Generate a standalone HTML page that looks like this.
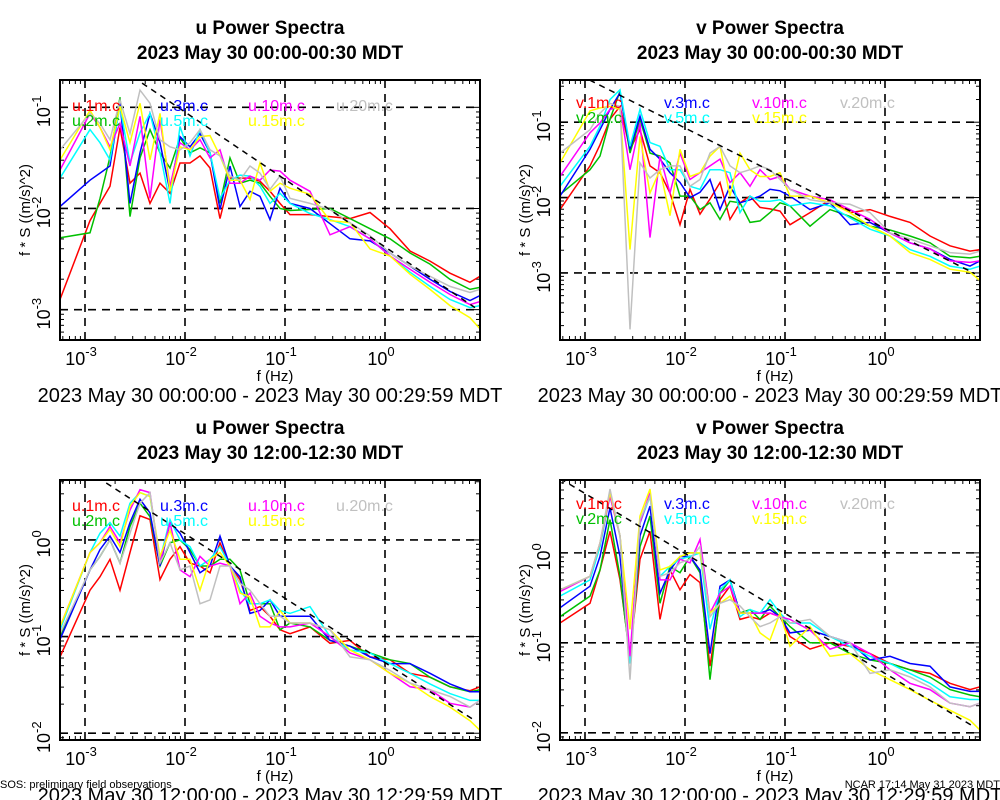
<!DOCTYPE html>
<html><head><meta charset="utf-8"><style>
body{margin:0;background:#fff;width:1000px;height:800px;overflow:hidden}
svg{display:block;font-family:"Liberation Sans",sans-serif}
</style></head><body>
<svg id="chart" width="1000" height="800" viewBox="0 0 1000 800" xmlns="http://www.w3.org/2000/svg"></svg>
<script>
// shared frequency grid (log10 Hz)
const logFreq = [-3.25,-2.95,-2.85,-2.75,-2.65,-2.55,-2.45,-2.35,-2.25,-2.15,-2.05,-1.95,-1.85,-1.75,-1.65,-1.55,-1.45,-1.35,-1.25,-1.15,-1.05,-0.95,-0.75,-0.55,-0.35,-0.15,0.05,0.25,0.45,0.65,0.85,0.95];
const seriesColors = ["#ff0000","#00c000","#0000ff","#00ffff","#ff00ff","#ffff00","#c0c0c0"];
const heightsLabel = ["1m","2m","3m","5m","10m","15m","20m"];
const legendOrder = [0,1,2,3,4,5,6];

// Panel 1: u 00:00 (log10 of f*S)
const tl_1m = [-2.9,-2.12,-1.95,-1.78,-1.2,-1.75,-1.65,-1.95,-1.75,-1.85,-1.55,-1.55,-1.48,-1.6,-2.1,-1.7,-1.7,-1.7,-1.73,-1.83,-1.95,-2.06,-2.06,-2.08,-2.1,-2.04,-2.2,-2.42,-2.52,-2.64,-2.73,-2.67];
const tl_2m = [-2.29,-2.24,-1.9,-1.49,-0.9,-2.08,-1.5,-1.22,-1.45,-1.6,-1.3,-1.45,-1.4,-1.45,-1.95,-1.5,-1.75,-1.72,-1.75,-1.88,-2.0,-2.02,-2.01,-2.0,-2.1,-2.2,-2.3,-2.44,-2.55,-2.7,-2.8,-2.78];
const tl_3m = [-1.98,-1.72,-1.65,-1.58,-0.96,-1.95,-1.45,-1.06,-1.35,-1.83,-1.29,-1.39,-1.26,-1.45,-2.01,-1.58,-1.98,-1.83,-1.88,-2.11,-1.8,-1.95,-2.0,-2.15,-2.3,-2.32,-2.44,-2.57,-2.7,-2.82,-2.91,-2.86];
const tl_5m = [-1.7,-1.22,-1.35,-1.52,-0.99,-1.55,-1.25,-1.06,-1.45,-1.95,-1.19,-1.48,-1.22,-1.45,-1.9,-1.72,-1.67,-1.68,-1.78,-1.95,-1.85,-1.95,-2.05,-2.11,-2.18,-2.3,-2.47,-2.63,-2.77,-2.9,-2.98,-2.96];
const tl_10m = [-1.62,-1.06,-1.2,-1.39,-1.16,-1.58,-1.09,-1.9,-1.12,-1.78,-1.35,-1.42,-1.32,-1.5,-1.42,-1.75,-1.75,-1.68,-1.72,-1.62,-1.63,-1.72,-1.83,-2.26,-2.18,-2.3,-2.47,-2.6,-2.73,-2.85,-2.95,-2.92];
const tl_15m = [-1.52,-1.03,-1.2,-1.42,-0.99,-1.35,-0.96,-1.52,-1.06,-1.83,-1.39,-1.42,-1.29,-1.28,-1.48,-1.72,-1.72,-1.91,-1.55,-1.83,-1.75,-1.8,-1.86,-2.12,-2.14,-2.4,-2.47,-2.65,-2.8,-2.96,-3.08,-3.19];
const tl_20m = [-1.42,-1.06,-1.16,-1.32,-0.93,-1.26,-0.83,-0.96,-1.32,-1.39,-1.42,-1.35,-1.22,-1.42,-1.48,-1.68,-1.72,-1.58,-1.65,-1.81,-1.68,-1.9,-1.95,-2.01,-2.14,-2.27,-2.44,-2.57,-2.67,-2.77,-2.83,-2.8];

// Panel 2: v 00:00
const tr_1m = [-2.16,-1.58,-1.3,-0.96,-0.79,-1.36,-1.1,-1.58,-1.67,-1.94,-2.36,-1.89,-2.22,-2.02,-1.8,-2.29,-2.07,-1.98,-2.13,-2.15,-2.18,-2.36,-2.2,-2.03,-2.2,-2.16,-2.25,-2.33,-2.51,-2.64,-2.71,-2.69];
const tr_2m = [-1.96,-1.63,-1.45,-0.96,-0.59,-1.41,-0.96,-1.41,-1.45,-1.54,-1.98,-1.98,-2.16,-2.07,-2.29,-2.05,-2.07,-2.33,-2.31,-2.2,-2.07,-2.11,-2.38,-2.16,-2.25,-2.38,-2.43,-2.51,-2.6,-2.78,-2.8,-2.78];
const tr_3m = [-1.98,-1.36,-1.1,-0.83,-0.61,-1.36,-0.92,-1.36,-1.49,-1.67,-1.8,-2.0,-1.93,-1.76,-2.16,-1.85,-2.07,-2.03,-1.98,-1.89,-1.91,-1.98,-2.16,-2.07,-2.36,-2.33,-2.47,-2.6,-2.68,-2.82,-2.91,-2.84];
const tr_5m = [-1.85,-1.32,-1.05,-0.7,-0.57,-1.32,-0.83,-1.27,-1.32,-1.63,-1.63,-1.85,-1.89,-1.63,-1.63,-1.67,-2.2,-1.98,-2.05,-2.05,-2.03,-2.11,-2.07,-2.11,-2.27,-2.42,-2.51,-2.69,-2.78,-2.91,-2.95,-2.91];
const tr_10m = [-1.72,-1.14,-1.01,-0.83,-0.79,-1.63,-1.01,-2.53,-1.45,-1.94,-1.41,-1.76,-1.67,-1.58,-1.49,-1.8,-1.67,-1.85,-1.63,-1.76,-1.72,-1.89,-1.98,-2.03,-2.16,-2.29,-2.47,-2.6,-2.68,-2.84,-2.86,-2.84];
const tr_15m = [-1.54,-0.85,-0.81,-0.79,-0.83,-2.69,-1.19,-1.94,-1.63,-2.24,-1.36,-1.72,-1.67,-1.45,-1.32,-1.98,-1.41,-1.63,-1.72,-1.72,-1.67,-1.98,-1.98,-2.07,-2.2,-2.38,-2.51,-2.73,-2.82,-2.95,-2.99,-3.1];
const tr_20m = [-1.41,-1.1,-0.88,-0.75,-0.79,-3.75,-1.54,-1.74,-1.63,-1.58,-1.58,-1.85,-1.76,-1.41,-1.32,-1.58,-1.67,-1.63,-1.58,-1.63,-1.76,-1.89,-2.03,-2.07,-2.09,-2.2,-2.47,-2.55,-2.64,-2.73,-2.75,-2.71];

// Panel 3: u 12:00
const bl_1m = [-1.21,-0.52,-0.38,-0.2,-0.52,-0.13,0.25,0.21,-0.41,-0.2,-0.07,-0.24,-0.27,-0.34,-0.03,-0.27,-0.41,-0.73,-0.69,-0.79,-0.93,-0.97,-0.9,-1.07,-1.04,-1.21,-1.24,-1.38,-1.42,-1.52,-1.56,-1.52];
const bl_2m = [-1.0,-0.31,-0.17,0.0,-0.24,0.14,0.38,0.24,-0.27,-0.03,0.0,-0.1,-0.27,-0.27,-0.2,-0.2,-0.31,-0.66,-0.66,-0.66,-0.93,-0.86,-0.9,-1.04,-1.1,-1.17,-1.24,-1.28,-1.42,-1.52,-1.57,-1.55];
const bl_3m = [-1.03,-0.31,-0.1,0.04,-0.13,0.18,0.42,0.28,-0.27,0.18,0.07,-0.13,-0.34,-0.27,0.04,-0.27,-0.38,-0.76,-0.73,-0.62,-0.79,-0.79,-0.79,-1.04,-1.1,-1.21,-1.28,-1.28,-1.38,-1.49,-1.57,-1.57];
const bl_5m = [-0.93,-0.13,0.07,0.18,0.04,0.38,0.49,0.45,-0.2,0.21,0.0,-0.07,-0.27,-0.2,-0.07,-0.27,-0.52,-0.66,-0.66,-0.62,-0.73,-0.76,-0.69,-1.0,-1.14,-1.17,-1.28,-1.38,-1.49,-1.59,-1.66,-1.66];
const bl_10m = [-0.9,-0.13,-0.03,0.14,-0.03,0.31,0.52,0.49,-0.24,0.18,-0.31,-0.38,-0.17,-0.27,-0.24,-0.27,-0.66,-0.55,-0.79,-0.86,-0.9,-0.9,-0.86,-1.0,-1.17,-1.24,-1.38,-1.52,-1.55,-1.69,-1.73,-1.66];
const bl_15m = [-0.9,-0.13,-0.03,0.11,-0.07,0.35,0.49,0.45,-0.17,0.1,-0.2,-0.2,-0.52,-0.2,-0.13,-0.27,-0.55,-0.59,-0.9,-0.9,-0.73,-0.86,-0.86,-0.93,-1.14,-1.24,-1.38,-1.48,-1.62,-1.73,-1.87,-1.97];
const bl_20m = [-0.97,-0.31,-0.17,0.0,-0.24,0.07,0.38,0.49,-0.24,-0.03,-0.31,-0.27,-0.66,-0.62,-0.27,-0.27,-0.45,-0.52,-0.66,-0.79,-0.79,-0.86,-0.86,-0.93,-1.21,-1.24,-1.35,-1.48,-1.55,-1.62,-1.73,-1.66];

// Panel 4: v 12:00
const br_1m = [-0.78,-0.56,-0.19,0.24,-0.3,-1.15,-0.07,0.24,-0.74,-0.19,-0.41,-0.24,-0.33,-1.26,-0.52,-0.37,-0.74,-0.71,-0.74,-0.67,-0.71,-0.93,-1.07,-1.0,-1.04,-1.12,-1.23,-1.3,-1.34,-1.45,-1.52,-1.49];
const br_2m = [-0.71,-0.48,-0.19,0.37,-0.26,-1.19,0.07,0.41,-0.56,-0.15,-0.22,-0.04,-0.22,-1.41,-0.45,-0.3,-0.67,-0.63,-0.74,-0.59,-0.71,-0.82,-1.0,-1.0,-1.12,-1.19,-1.23,-1.3,-1.38,-1.52,-1.58,-1.6];
const br_3m = [-0.61,-0.37,-0.04,0.5,-0.04,-1.23,0.19,0.52,-0.45,-0.19,-0.04,-0.04,-0.19,-1.12,-0.37,-0.3,-0.67,-0.67,-0.67,-0.63,-0.71,-0.89,-0.86,-0.93,-1.0,-1.19,-1.15,-1.23,-1.26,-1.49,-1.54,-1.54];
const br_5m = [-0.48,-0.3,0.07,0.63,0.19,-1.23,0.33,0.63,-0.26,-0.15,-0.07,-0.04,0.0,-0.85,-0.41,-0.3,-0.71,-0.63,-0.67,-0.52,-0.67,-0.78,-0.78,-0.93,-1.04,-1.15,-1.23,-1.34,-1.45,-1.6,-1.63,-1.63];
const br_10m = [-0.43,-0.26,0.11,0.63,0.19,-1.15,0.33,0.67,-0.3,-0.3,-0.07,-0.11,0.15,-0.67,-0.45,-0.37,-0.67,-0.67,-0.67,-0.67,-0.71,-0.74,-0.86,-1.07,-1.0,-1.12,-1.3,-1.45,-1.52,-1.67,-1.71,-1.67];
const br_15m = [-0.41,-0.26,0.11,0.67,0.19,-0.85,0.41,0.71,-0.19,-0.15,-0.04,0.0,0.0,-0.67,-0.56,-0.48,-0.67,-0.67,-0.89,-0.97,-0.67,-1.04,-0.82,-1.15,-1.12,-1.3,-1.41,-1.52,-1.64,-1.75,-1.86,-1.97];
const br_20m = [-0.41,-0.26,0.11,0.71,0.19,-1.41,0.37,0.63,-0.26,-0.22,-0.11,-0.07,0.07,-0.71,-0.56,-0.52,-0.59,-0.71,-0.82,-0.78,-0.71,-0.78,-0.74,-0.93,-1.0,-1.34,-1.3,-1.38,-1.49,-1.67,-1.71,-1.67];

const xTickExp = [-3,-2,-1,0];
const topYTickExp = [-1,-2,-3];
const botYTickExp = [0,-1,-2];
const refIntercepts = [-2.38,-2.41,-1.27,-1.34]; // -2/3 slope reference line intercepts

const svg = document.getElementById('chart');
const NS = 'http://www.w3.org/2000/svg';
function mk(tag, attrs, parent){const e=document.createElementNS(NS,tag);for(const k in attrs)e.setAttribute(k,attrs[k]);(parent||svg).appendChild(e);return e;}

const panels = [
 {comp:'u', title1:'u Power Spectra', title2:'2023 May 30 00:00-00:30 MDT', sub:'2023 May 30 00:00:00 - 2023 May 30 00:29:59 MDT', x0:60,y0:80, lyMin:-3.3, lyMax:-0.73, yt:topYTickExp, data:[tl_1m,tl_2m,tl_3m,tl_5m,tl_10m,tl_15m,tl_20m], ref:refIntercepts[0], leg:[72,111]},
 {comp:'v', title1:'v Power Spectra', title2:'2023 May 30 00:00-00:30 MDT', sub:'2023 May 30 00:00:00 - 2023 May 30 00:29:59 MDT', x0:560,y0:80, lyMin:-3.89, lyMax:-0.44, yt:topYTickExp, data:[tr_1m,tr_2m,tr_3m,tr_5m,tr_10m,tr_15m,tr_20m], ref:refIntercepts[1], leg:[576,108]},
 {comp:'u', title1:'u Power Spectra', title2:'2023 May 30 12:00-12:30 MDT', sub:'2023 May 30 12:00:00 - 2023 May 30 12:29:59 MDT', x0:60,y0:480, lyMin:-2.07, lyMax:0.62, yt:botYTickExp, data:[bl_1m,bl_2m,bl_3m,bl_5m,bl_10m,bl_15m,bl_20m], ref:refIntercepts[2], leg:[72,511]},
 {comp:'v', title1:'v Power Spectra', title2:'2023 May 30 12:00-12:30 MDT', sub:'2023 May 30 12:00:00 - 2023 May 30 12:29:59 MDT', x0:560,y0:480, lyMin:-2.08, lyMax:0.81, yt:botYTickExp, data:[br_1m,br_2m,br_3m,br_5m,br_10m,br_15m,br_20m], ref:refIntercepts[3], leg:[576,509]}
];
const W=420,H=260,LX0=-3.25,LX1=0.95;
const legX=[0,88,176,264], legColOf=[0,0,1,1,2,2,3], legRowOf=[0,1,0,1,0,1,0];

panels.forEach((p,pi)=>{
  const g=mk('g',{});
  
  
  const sx=lf=>p.x0+(lf-LX0)/(LX1-LX0)*W;
  const sy=ls=>p.y0+(p.lyMax-ls)/(p.lyMax-p.lyMin)*H;
  const cx=p.x0+210;
  let t=mk('text',{x:cx,y:p.y0-46,'text-anchor':'middle','font-size':19,'font-weight':'bold'},g);t.textContent=p.title1;
  
  t=mk('text',{x:cx,y:p.y0-21,'text-anchor':'middle','font-size':19,'font-weight':'bold'},g);t.textContent=p.title2;
  
  const cid='clip'+pi;
  const cp=mk('clipPath',{id:cid},g);mk('rect',{x:p.x0,y:p.y0,width:W,height:H},cp);
  const tk=mk('g',{stroke:'#000','stroke-width':1},g);
  
  for(let d=-4;d<=1;d++)for(let m=1;m<10;m++){
    const lf=d+Math.log10(m); if(lf<LX0||lf>LX1)continue; const x=sx(lf), L=m==1?8:4;
    mk('line',{x1:x,y1:p.y0+H,x2:x,y2:p.y0+H-L},tk);mk('line',{x1:x,y1:p.y0,x2:x,y2:p.y0+L},tk);}
  for(let d=-5;d<=2;d++)for(let m=1;m<10;m++){
    const ls=d+Math.log10(m); if(ls<p.lyMin||ls>p.lyMax)continue; const y=sy(ls), L=m==1?8:4;
    mk('line',{x1:p.x0,y1:y,x2:p.x0+L,y2:y},tk);mk('line',{x1:p.x0+W,y1:y,x2:p.x0+W-L,y2:y},tk);}
  const gg=mk('g',{stroke:'#000','stroke-width':1.6,'stroke-dasharray':'8,6'},g);
  
  xTickExp.forEach(e=>mk('line',{x1:sx(e),y1:p.y0,x2:sx(e),y2:p.y0+H},gg));
  p.yt.forEach(e=>mk('line',{x1:p.x0,y1:sy(e),x2:p.x0+W,y2:sy(e)},gg));
  const sg=mk('g',{'clip-path':'url(#'+cid+')',fill:'none','stroke-width':1.5},g);
  p.data.forEach((arr,si)=>{
    const pts=arr.map((v,i)=>sx(logFreq[i]).toFixed(1)+','+sy(v).toFixed(1)).join(' ');
    const pl=mk('polyline',{points:pts,stroke:seriesColors[si]},sg);
    
    
  });
  const rl=mk('line',{x1:sx(LX0),y1:sy(p.ref-2/3*LX0),x2:sx(0.9),y2:sy(p.ref-2/3*0.9),stroke:'#000','stroke-width':1.5,'stroke-dasharray':'6,5'},sg);
  
  const fr=mk('rect',{x:p.x0,y:p.y0,width:W,height:H,fill:'none',stroke:'#000','stroke-width':2},g);
  
  legendOrder.forEach(si=>{
    const lt=mk('text',{x:p.leg[0]+legX[legColOf[si]],y:p.leg[1]+legRowOf[si]*15,'font-size':16,fill:seriesColors[si]},g);
    lt.textContent=p.comp+'.'+heightsLabel[si]+'.c';
    
  });
  xTickExp.forEach(e=>{
    const xt=mk('text',{x:sx(e)-4,y:p.y0+H+25,'text-anchor':'middle','font-size':18},g);
    
    const a=mk('tspan',{},xt);a.textContent='10';
    const b=mk('tspan',{dy:-9,'font-size':13},xt);b.textContent=String(e);
  });
  p.yt.forEach(e=>{
    const y=sy(e);
    const yt=mk('text',{x:0,y:0,'text-anchor':'middle','font-size':18,transform:'translate('+(p.x0-10)+','+(y+4)+') rotate(-90)'},g);
    
    const a=mk('tspan',{},yt);a.textContent='10';
    const b=mk('tspan',{dy:-9,'font-size':13},yt);b.textContent=String(e);
  });
  t=mk('text',{x:0,y:0,'text-anchor':'middle','font-size':15,transform:'translate('+(p.x0-30)+','+(p.y0+130)+') rotate(-90)'},g);
  t.textContent='f * S ((m/s)^2)';
  
  t=mk('text',{x:p.x0+215,y:p.y0+H+41,'text-anchor':'middle','font-size':15},g);t.textContent='f (Hz)';
  
  t=mk('text',{x:p.x0+210,y:p.y0+H+62,'text-anchor':'middle','font-size':20},g);t.textContent=p.sub;
  
});
let f=mk('text',{x:0,y:788,'font-size':11});f.textContent='SOS: preliminary field observations';

f=mk('text',{x:1000,y:788,'font-size':11,'text-anchor':'end'});f.textContent='NCAR 17:14 May 31 2023 MDT';

</script>
</body></html>
